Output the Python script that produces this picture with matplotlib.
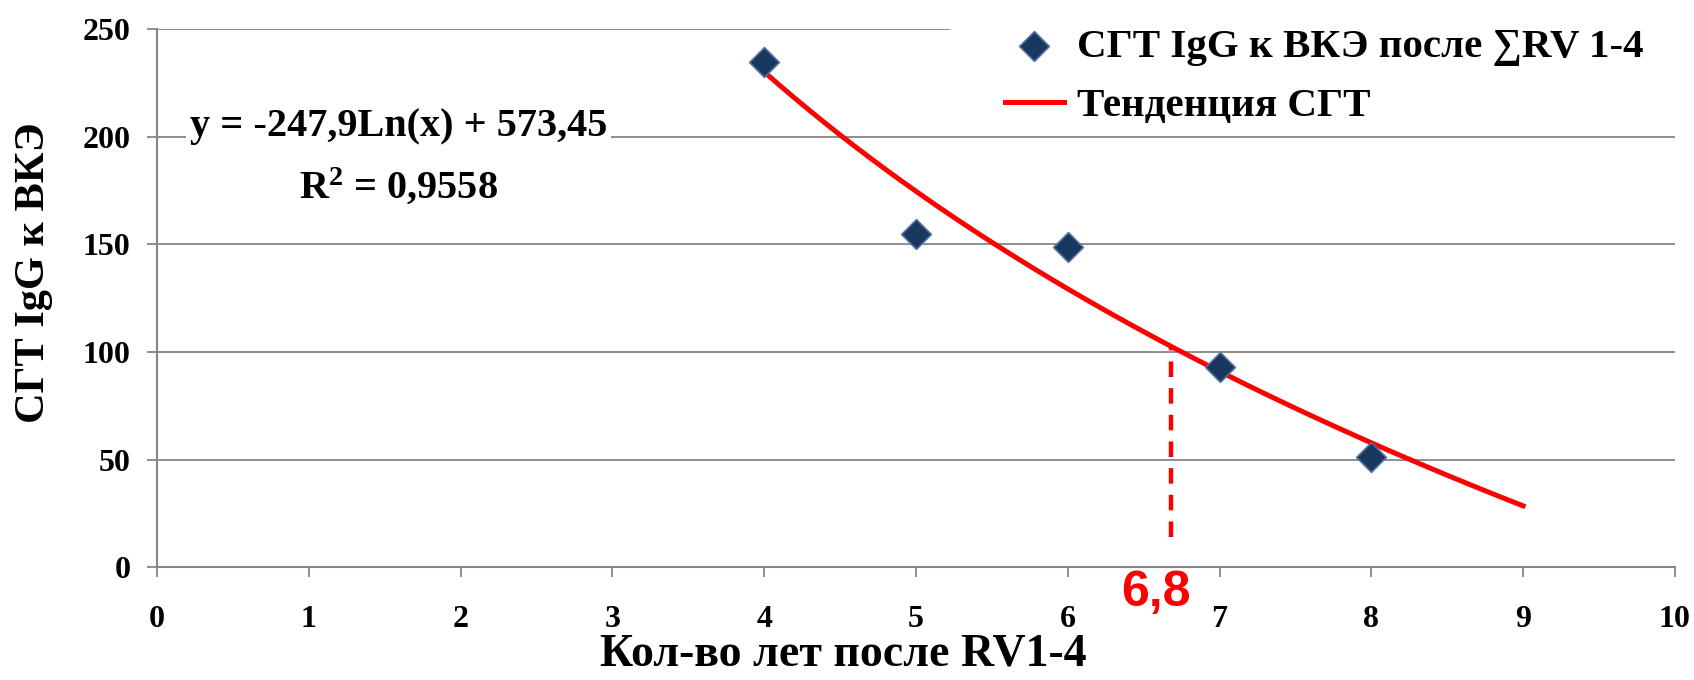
import numpy as np
import matplotlib
matplotlib.use('Agg')
import matplotlib.pyplot as plt
from matplotlib.patches import Rectangle

# ---- data ----
years = [4, 5, 6, 7, 8]
igg = [235, 155, 149, 93, 51]
trend_x_start, trend_x_end = 4, 9
cutoff_x = 6.68
cutoff_y0 = 14
cutoff_label = "6,8"
x_ticks = list(range(0, 11))
y_ticks = [0, 50, 100, 150, 200, 250]
eq_text = "y = -247,9Ln(x) + 573,45"
r2_text = "R$^2$ = 0,9558"
series_label = "СГТ IgG к ВКЭ после ∑RV 1-4"
trend_label = "Тенденция СГТ"
xlabel = "Кол-во лет после RV1-4"
ylabel = "СГТ IgG к ВКЭ"

plt.rcParams['font.family'] = ['Liberation Serif', 'DejaVu Serif']
plt.rcParams['font.weight'] = 'bold'
plt.rcParams['mathtext.fontset'] = 'custom'
plt.rcParams['mathtext.rm'] = 'Liberation Serif:bold'
plt.rcParams['mathtext.bf'] = 'Liberation Serif:bold'
plt.rcParams['mathtext.it'] = 'Liberation Serif:bold'

fig = plt.figure(figsize=(16.94, 6.8), dpi=100)
ax = fig.add_axes([0.0927, 0.166, 0.896, 0.791])

grid_c = '#868686'
ax.set_xlim(0, 10)
ax.set_ylim(0, 250)
ax.set_xticks(x_ticks)
ax.set_yticks(y_ticks)
ax.yaxis.grid(True, color=grid_c, linewidth=1.3, zorder=0)
ax.set_axisbelow(True)
for s in ['top', 'right']:
    ax.spines[s].set_visible(False)
for s in ['left', 'bottom']:
    ax.spines[s].set_color(grid_c)
    ax.spines[s].set_linewidth(1.5)
ax.tick_params(axis='both', colors=grid_c, length=7, width=1.3, labelsize=23,
               labelcolor='black')
ax.tick_params(axis='x', pad=20)
ax.tick_params(axis='y', pad=12)
for lab in ax.get_xticklabels() + ax.get_yticklabels():
    lab.set_fontweight('bold')

# white area behind the legend (hides gridline under it)
ax.add_patch(Rectangle((0.561, 0.81), 0.45, 0.2, transform=fig.transFigure,
                       facecolor='white', edgecolor='none', zorder=1.5,
                       clip_on=False))

# trend (logarithmic fit from data)
coef = np.polyfit(np.log(years), igg, 1)
tx = np.linspace(trend_x_start, trend_x_end, 200)
ty = coef[0] * np.log(tx) + coef[1]
ax.plot(tx, ty, color='#FF0000', linewidth=3.6, zorder=3, label=trend_label)

ax.scatter(years, igg, marker='D', s=230, color='#17375E', edgecolors='#5670A0',
           linewidths=1.2, zorder=4, label=series_label)

# cutoff dashed line
cy = coef[0] * np.log(cutoff_x) + coef[1]
ax.plot([cutoff_x, cutoff_x], [cutoff_y0, cy], color='#FF0000', linewidth=3.2,
        linestyle=(0, (3.5, 2.5)), zorder=3)
ax.text(cutoff_x - 0.1, -12, cutoff_label, color='#FF0000', fontsize=36,
        fontweight='bold', family=['Liberation Sans', 'DejaVu Sans'],
        ha='center', va='center', clip_on=False)

# equation
ax.text(1.59, 205, eq_text, fontsize=29, fontweight='bold', ha='center', va='center',
        bbox=dict(facecolor='white', edgecolor='none', pad=3), zorder=5)
ax.text(1.59, 177, r2_text, fontsize=29, fontweight='bold', ha='center', va='center',
        zorder=5)

ax.set_xlabel(xlabel, fontsize=33, fontweight='bold')
ax.xaxis.set_label_coords(0.452, -0.124)
ax.set_ylabel(ylabel, fontsize=30.5, fontweight='bold')
ax.yaxis.set_label_coords(-0.0685, 0.548)

handles, labels = ax.get_legend_handles_labels()
order = [1, 0]
leg = fig.legend([handles[i] for i in order], [labels[i] for i in order],
                 loc='upper left', bbox_to_anchor=(0.593, 0.958),
                 frameon=False, prop={'weight': 'bold', 'size': 29.5},
                 handlelength=1.45, handletextpad=0.33, labelspacing=0.52,
                 borderpad=0, borderaxespad=0)

fig.savefig('out.png', dpi=100)
